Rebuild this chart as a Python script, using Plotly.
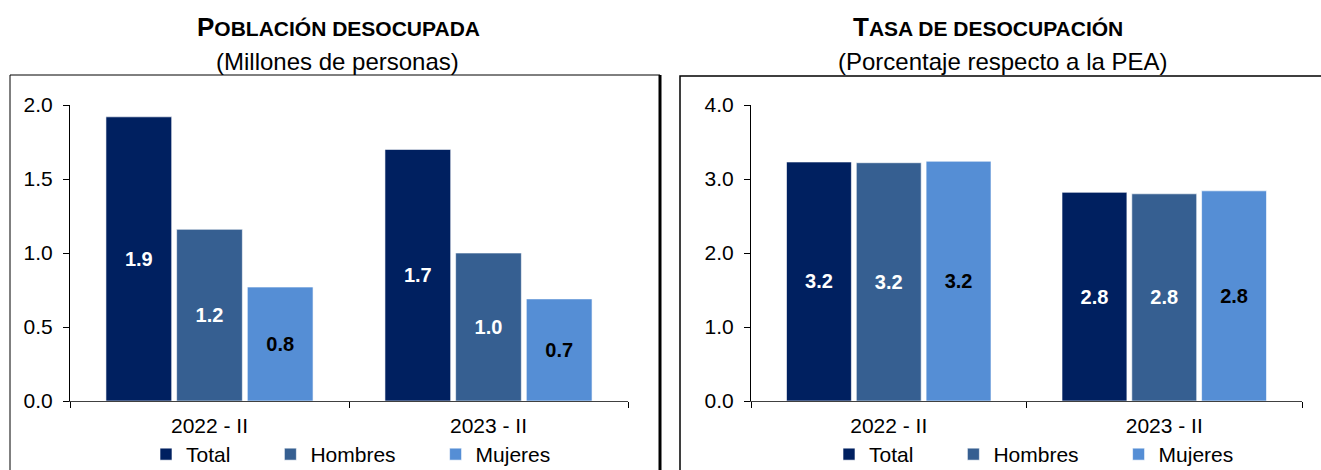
import plotly.graph_objects as go

# Daten
periodos = ["2022 - II", "2023 - II"]
series = ["Total", "Hombres", "Mujeres"]
poblacion_total = [1.92, 1.70]
poblacion_hombres = [1.16, 1.00]
poblacion_mujeres = [0.77, 0.69]
tasa_total = [3.23, 2.82]
tasa_hombres = [3.22, 2.80]
tasa_mujeres = [3.24, 2.84]

farben = ["#002060", "#365F91", "#558ED5"]
textfarben = ["white", "white", "black"]
FONT = "Arial, Liberation Sans, sans-serif"

W, H = 1321, 470


def px_x(p):
    return p / W


def px_y(p):
    return 1 - p / H


fig = go.Figure()

links = [poblacion_total, poblacion_hombres, poblacion_mujeres]
rechts = [tasa_total, tasa_hombres, tasa_mujeres]
pad = "\u00a0" * 6

for i, name in enumerate(series):
    for werte, xa, ya, leg in [(links[i], "x", "y", "legend"), (rechts[i], "x2", "y2", "legend2")]:
        fig.add_trace(
            go.Bar(
                x=periodos,
                y=werte,
                name=name + pad,
                xaxis=xa,
                yaxis=ya,
                legend=leg,
                marker=dict(color=farben[i], line=dict(color="rgba(255,255,255,0.6)", width=1)),
                texttemplate="<b>%{y:.1f}</b>",
                textposition="inside",
                insidetextanchor="middle",
                textangle=0,
                constraintext="none",
                textfont=dict(color=textfarben[i], size=20, family=FONT),
            )
        )

achse_x = dict(
    showline=True,
    linecolor="#404040",
    linewidth=1,
    ticks="outside",
    tickson="boundaries",
    ticklen=6,
    tickcolor="black",
    ticklabelstandoff=6,
    tickfont=dict(size=21, family=FONT, color="black"),
    showgrid=False,
    fixedrange=True,
)
achse_y = dict(
    showline=True,
    linecolor="black",
    linewidth=1,
    ticks="outside",
    ticklen=6,
    tickcolor="black",
    ticklabelstandoff=6,
    tickformat=".1f",
    tickfont=dict(size=21, family=FONT, color="black"),
    showgrid=False,
    zeroline=False,
    domain=[px_y(401), px_y(105)],
)

legende = dict(
    orientation="h",
    xanchor="left",
    y=-5 / H,
    yanchor="bottom",
    font=dict(size=21, family=FONT),
    bgcolor="rgba(0,0,0,0)",
)

fig.update_layout(
    width=W,
    height=H,
    margin=dict(l=0, r=0, t=0, b=0, autoexpand=False),
    plot_bgcolor="white",
    paper_bgcolor="white",
    barmode="group",
    bargap=0.24,
    bargroupgap=0.07,
    font=dict(family=FONT, color="black"),
    xaxis=dict(achse_x, domain=[px_x(70), px_x(628)]),
    xaxis2=dict(achse_x, domain=[px_x(751), px_x(1302)]),
    yaxis=dict(achse_y, range=[0, 2], dtick=0.5),
    yaxis2=dict(achse_y, range=[0, 4], dtick=1, anchor="x2"),
    legend=dict(legende, x=px_x(146)),
    legend2=dict(legende, x=px_x(829)),
)

# Rahmen
fig.add_shape(type="rect", xref="paper", yref="paper", x0=px_x(10), x1=px_x(660),
              y0=px_y(480), y1=px_y(75), line=dict(color="black", width=1), layer="below")
fig.add_shape(type="line", xref="paper", yref="paper", x0=px_x(660), x1=px_x(660),
              y0=px_y(480), y1=px_y(75), line=dict(color="black", width=3))
fig.add_shape(type="rect", xref="paper", yref="paper", x0=px_x(680), x1=px_x(1340),
              y0=px_y(480), y1=px_y(76), line=dict(color="black", width=1.5), layer="below")

# Titel
titel = [
    (px_x(338), px_x(337), "<b>P<span style='font-size:21px'>OBLACIÓN DESOCUPADA</span></b>", "(Millones de personas)"),
    (px_x(988), px_x(1003), "<b>T<span style='font-size:21px'>ASA DE DESOCUPACIÓN</span></b>", "(Porcentaje respecto a la PEA)"),
]
for x_haupt, x_unter, haupt, unter in titel:
    fig.add_annotation(x=x_haupt, y=px_y(27), xref="paper", yref="paper", text=haupt, xanchor="center",
                       showarrow=False, font=dict(size=26, family=FONT), yanchor="middle")
    fig.add_annotation(x=x_unter, y=px_y(61), xref="paper", yref="paper", text=unter, xanchor="center",
                       showarrow=False, font=dict(size=24, family=FONT), yanchor="middle")

fig.write_html("out.html", config={"displayModeBar": False},
               post_script="document.body.style.margin='0px';")
